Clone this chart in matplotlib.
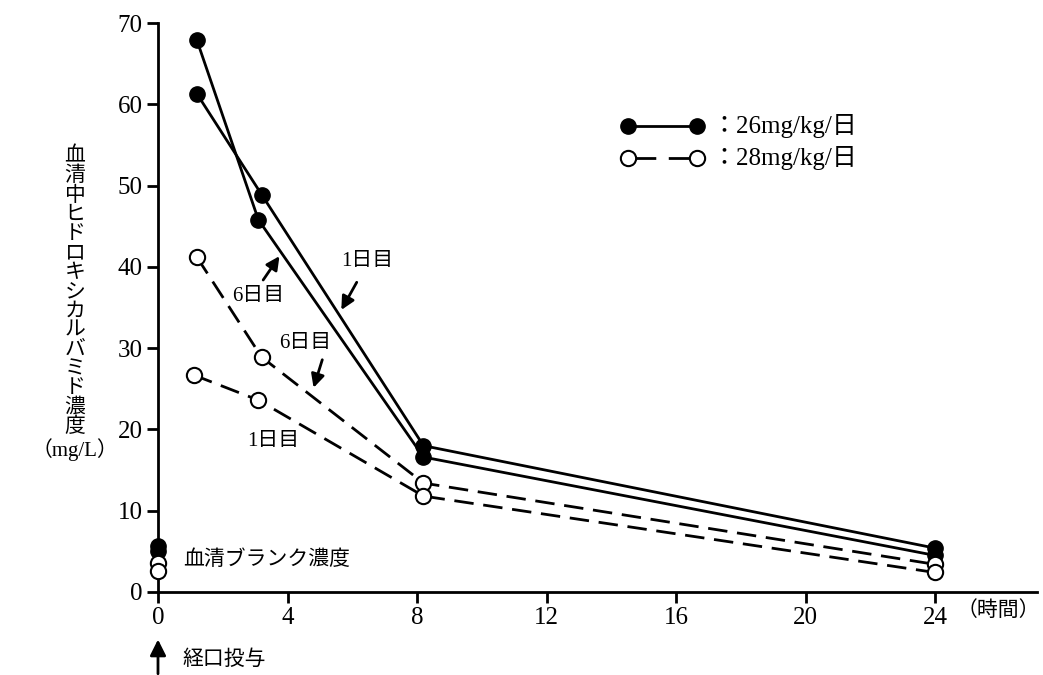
import matplotlib
matplotlib.use("Agg")
import matplotlib.pyplot as plt

plt.rcParams['font.family'] = ['Liberation Serif', 'Noto Sans CJK JP']

# data (hours, mg/L)
t_26_d1 = [1.2, 3.2, 8.2, 24]
c_26_d1 = [61.3, 48.9, 18.0, 5.4]
t_26_d6 = [1.2, 3.1, 8.2, 24]
c_26_d6 = [67.9, 45.8, 16.6, 4.5]
t_28_d6 = [1.2, 3.2, 8.2, 24]
c_28_d6 = [41.2, 28.9, 13.4, 3.4]
t_28_d1 = [1.1, 3.1, 8.2, 24]
c_28_d1 = [26.7, 23.6, 11.8, 2.4]
blank_26 = [5.6, 5.0]
blank_28 = [3.6, 2.6]
xticks = [0, 4, 8, 12, 16, 20, 24]
yticks = [0, 10, 20, 30, 40, 50, 60, 70]

fig = plt.figure(figsize=(10.43, 6.75), dpi=100)
ax = fig.add_axes([158 / 1043, 83 / 675, 879 / 1043, 569 / 675])

lw = 2.0
ms = 11
dash = (7, 3.5)
solid = dict(color='black', lw=lw, marker='o', ms=ms, mfc='black', mec='black', clip_on=False)
dashed = dict(color='black', lw=lw, marker='o', ms=ms, mfc='white', mec='black', mew=1.5,
              dashes=dash, clip_on=False, zorder=3)

ax.plot(t_26_d1, c_26_d1, **solid)
ax.plot(t_26_d6, c_26_d6, **solid)
ax.plot(t_28_d6, c_28_d6, **dashed)
ax.plot(t_28_d1, c_28_d1, **dashed)

# blank concentrations at time 0
ax.plot([0] * len(blank_26), blank_26, 'o', ms=ms, mfc='black', mec='black', clip_on=False, zorder=4)
ax.plot([0] * len(blank_28), blank_28, 'o', ms=ms, mfc='white', mec='black', mew=1.5, clip_on=False, zorder=4)

ax.set_xlim(0, 27.15)
ax.set_ylim(0, 70)
ax.set_xticks(xticks)
ax.set_yticks(yticks)
ax.tick_params(direction='out', length=8, width=2.0, labelsize=18, pad=3)
for s in ['top', 'right']:
    ax.spines[s].set_visible(False)
for s in ['left', 'bottom']:
    ax.spines[s].set_linewidth(2.0)

fs = 15
ax.text(25.95, -2.3, '（時間）', fontsize=fs, ha='center', va='center', clip_on=False)
ax.text(0.77, 3.9, '血清ブランク濃度', fontsize=fs, ha='left', va='center')

# labels and arrows
arr = dict(arrowstyle='-|>', color='black', lw=2.0, mutation_scale=20)
ax.text(6.45, 40.6, '1日目', fontsize=fs, ha='center', va='center')
ax.annotate('', xy=(5.62, 34.4), xytext=(6.18, 38.4), arrowprops=arr)
ax.text(3.1, 36.3, '6日目', fontsize=fs, ha='center', va='center')
ax.annotate('', xy=(3.8, 41.6), xytext=(3.2, 38.1), arrowprops=arr)
ax.text(4.55, 30.6, '6日目', fontsize=fs, ha='center', va='center')
ax.annotate('', xy=(4.78, 24.8), xytext=(5.1, 28.9), arrowprops=arr)
ax.text(3.55, 18.5, '1日目', fontsize=fs, ha='center', va='center')

# oral dose arrow below the axis
ax.annotate('', xy=(0, -5.5), xytext=(0, -10.4),
            arrowprops=dict(arrowstyle='-|>', color='black', lw=2.0, mutation_scale=24),
            annotation_clip=False)
ax.text(0.77, -8.4, '経口投与', fontsize=fs, ha='left', va='center', clip_on=False)

# legend drawn by hand
ax.plot([14.52, 16.65], [57.3, 57.3], **solid)
ax.plot([14.52, 16.65], [53.4, 53.4], color='black', lw=lw, marker='o', ms=ms, mfc='white',
        mec='black', mew=1.5, dashes=(10, 4.5))
ax.text(17.1, 57.3, '：26mg/kg/日', fontsize=18, ha='left', va='center')
ax.text(17.1, 53.4, '：28mg/kg/日', fontsize=18, ha='left', va='center')

ylab = '\n'.join('血清中ヒドロキシカルバミド濃度') + '\n（mg/L）'
fig.text(75 / 1043, 1 - 304 / 675, ylab, fontsize=fs, ha='center', va='center', linespacing=1.02)

fig.savefig('out.png', dpi=100)
